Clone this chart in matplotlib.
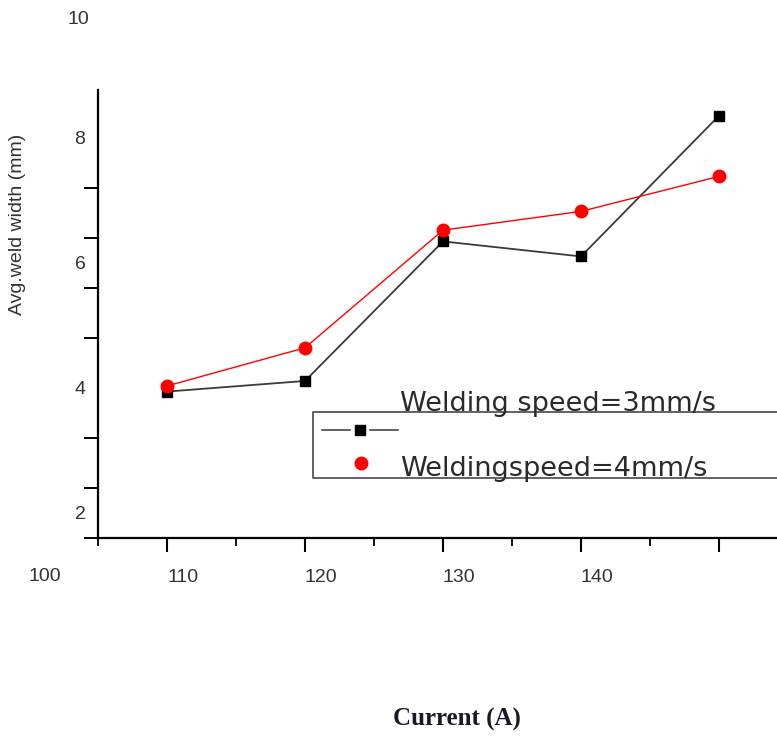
import numpy as np
import matplotlib
matplotlib.use('Agg')
import matplotlib.pyplot as plt
from matplotlib.lines import Line2D
from matplotlib.transforms import ScaledTranslation

current = [110, 120, 130, 140, 150]
width_3mm = [3.94, 4.11, 6.34, 6.10, 8.35]
width_4mm = [4.03, 4.64, 6.52, 6.82, 7.38]

xtick_labels = ['110', '120', '130', '140', '']
ytick_vals = [2, 4, 6, 8]
label_3 = 'Welding speed=3mm/s'
label_4 = 'Weldingspeed=4mm/s'

fig = plt.figure(figsize=(7.77, 7.36), dpi=100)
ax = fig.add_axes([98/777, 1 - 538/736, 1 - 98/777, (538 - 90)/736])

ax.plot(current, width_3mm, color='#3a3a3a', lw=1.3, marker='s', ms=7,
        mfc='black', mec='black')
ax.plot(current, width_4mm, color='red', lw=1.0, marker='o', ms=9,
        mfc='red', mec='red')

ax.set_xlim(105, 154.2)
ax.set_ylim(1.625, 8.76)
for s in ['top', 'right']:
    ax.spines[s].set_visible(False)
for s in ['left', 'bottom']:
    ax.spines[s].set_linewidth(1.6)

tick_font = dict(family='Liberation Sans', size=14, color='#333333')

ax.set_xticks(current)
ax.set_xticklabels(xtick_labels, **tick_font)
ax.set_xticks(np.arange(105, 150, 10), minor=True)
ax.tick_params(axis='x', which='major', direction='out', length=10, width=1.5, pad=12)
ax.tick_params(axis='x', which='minor', direction='out', length=6, width=1.3)
shift = ScaledTranslation(16/100, 0, fig.dpi_scale_trans)
for lab in ax.get_xticklabels():
    lab.set_transform(lab.get_transform() + shift)
ax.text(100, 1.625, '100', transform=ax.transData + ScaledTranslation(16/100, -40/100, fig.dpi_scale_trans),
        ha='center', va='center', clip_on=False, **tick_font)

ax.set_yticks(ytick_vals)
ax.set_yticklabels([str(v) for v in ytick_vals], **tick_font)
ax.set_yticks(np.arange(1.6, 8.01, 0.8), minor=True)
ax.tick_params(axis='y', which='major', length=0, pad=9)
ax.tick_params(axis='y', which='minor', direction='out', length=10, width=1.4)
ax.text(105, 10, '10', transform=ax.transData + ScaledTranslation(-20/100, -7/100, fig.dpi_scale_trans),
        ha='center', va='center', clip_on=False, **tick_font)

fig.text(18/777, 1 - 224/736, 'Avg.weld width (mm)', rotation=90, ha='center', va='center',
         family='Liberation Sans', fontsize=14, color='#333333')
fig.text(457/777, 1 - 719/736, 'Current (A)', ha='center', va='center',
         family='Liberation Serif', fontweight='bold', fontsize=18, color='#1a1a26')

# legend box drawn by hand (open on the right, first label sits above it)
def fy(py):
    return 1 - py/736

box_x = [1.0, 313/777, 313/777, 1.0]
box_y = [fy(412), fy(412), fy(478), fy(478)]
fig.add_artist(Line2D(box_x, box_y, transform=fig.transFigure, color='#555555', lw=1.3))
fig.add_artist(Line2D([322/777, 350/777], [fy(430), fy(430)], transform=fig.transFigure, color='#444444', lw=1.2))
fig.add_artist(Line2D([370/777, 398/777], [fy(430), fy(430)], transform=fig.transFigure, color='#444444', lw=1.2))
fig.add_artist(Line2D([360/777], [fy(430)], transform=fig.transFigure, marker='s', ms=7, color='black', lw=0))
fig.add_artist(Line2D([361/777], [fy(463)], transform=fig.transFigure, marker='o', ms=9, color='red', lw=0))

leg_font = dict(family='DejaVu Sans', fontsize=19.5, color='#2a2a2a')
fig.text(400/777, fy(411), label_3, ha='left', va='baseline', **leg_font)
fig.text(400/777, fy(476), label_4, ha='left', va='baseline', **leg_font)

fig.savefig('out.png', dpi=100)
